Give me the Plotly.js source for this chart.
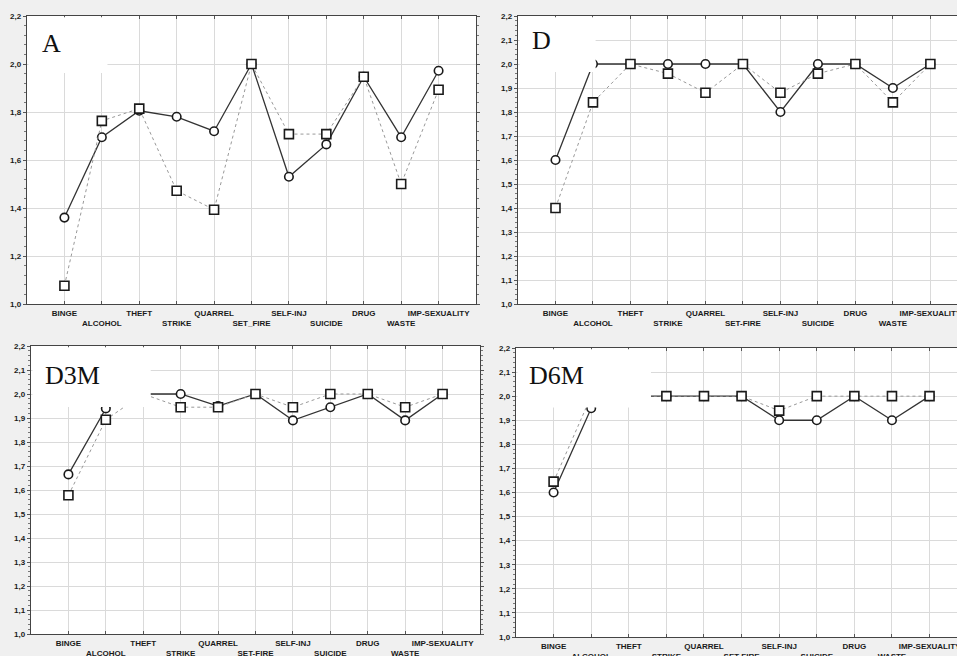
<!DOCTYPE html>
<html>
<head>
<meta charset="utf-8">
<script src="https://cdn.plot.ly/plotly-3.0.1.min.js"></script>
<style>
  html, body { margin: 0; padding: 0; background: #f0f0f0; }
  #chart { width: 957px; height: 656px; }
</style>
</head>
<body>
<div id="chart"></div>
<script>
// ---- data ----
const categories = ['BINGE','ALCOHOL','THEFT','STRIKE','QUARREL','SET_FIRE','SELF-INJ','SUICIDE','DRUG','WASTE','IMP-SEXUALITY'];
const labelsA = ['BINGE','ALCOHOL','THEFT','STRIKE','QUARREL','SET_FIRE','SELF-INJ','SUICIDE','DRUG','WASTE','IMP-SEXUALITY'];
const labelsD = ['BINGE','ALCOHOL','THEFT','STRIKE','QUARREL','SET-FIRE','SELF-INJ','SUICIDE','DRUG','WASTE','IMP-SEXUALITY'];
const panelNames = ['A','D','D3M','D6M'];

const aCircle  = [1.36, 1.695, 1.805, 1.78, 1.72, 2.0, 1.53, 1.665, 1.947, 1.695, 1.972];
const aSquare  = [1.076, 1.763, 1.814, 1.472, 1.393, 2.0, 1.708, 1.708, 1.947, 1.5, 1.893];
const dCircle  = [1.6, 2.0, 2.0, 2.0, 2.0, 2.0, 1.8, 2.0, 2.0, 1.9, 2.0];
const dSquare  = [1.4, 1.84, 2.0, 1.96, 1.88, 2.0, 1.88, 1.96, 2.0, 1.84, 2.0];
const d3Circle = [1.665, 1.94, 2.0, 2.0, 1.95, 2.0, 1.89, 1.945, 2.0, 1.89, 2.0];
const d3Square = [1.578, 1.893, 2.0, 1.945, 1.945, 2.0, 1.945, 2.0, 2.0, 1.945, 2.0];
const d6Circle = [1.6, 1.95, 2.0, 2.0, 2.0, 2.0, 1.9, 1.9, 2.0, 1.9, 2.0];
const d6Square = [1.645, 2.0, 2.0, 2.0, 2.0, 2.0, 1.94, 2.0, 2.0, 2.0, 2.0];

const yTicksA = [1.0, 1.2, 1.4, 1.6, 1.8, 2.0, 2.2];
const yTicksD = [1.0, 1.1, 1.2, 1.3, 1.4, 1.5, 1.6, 1.7, 1.8, 1.9, 2.0, 2.1, 2.2];

// ---- layout geometry (pixels) ----
const W = 957, H = 656;
const boxes = [
  {x0: 27,  x1: 476, y0: 16,  y1: 304, xr: [-1, 11],    yt: yTicksA, minor: 0.04, labels: labelsA,
   mask: [-0.96, 1.15, 1.963], lab: [40, 43]},
  {x0: 518, x1: 957, y0: 16,  y1: 304, xr: [-1, 10.71], yt: yTicksD, minor: 0.02, labels: labelsD,
   mask: [-0.96, 1.07, 1.967], lab: [530, 40]},
  {x0: 31,  x1: 480, y0: 346, y1: 634, xr: [-1, 11],    yt: yTicksD, minor: 0.02, labels: labelsD,
   mask: [-0.96, 2.2, 1.946], lab: [43, 376]},
  {x0: 516, x1: 957, y0: 348, y1: 637, xr: [-1, 10.73], yt: yTicksD, minor: 0.02, labels: labelsD,
   mask: [-0.96, 2.59, 1.953], lab: [527, 376]}
];
const series = [[aCircle, aSquare], [dCircle, dSquare], [d3Circle, d3Square], [d6Circle, d6Square]];

const traces = [];
const layout = {
  width: W, height: H,
  margin: {l: 0, r: 0, t: 0, b: 0},
  paper_bgcolor: '#f0f0f0',
  plot_bgcolor: '#ffffff',
  showlegend: false,
  separators: ',.',
  font: {family: 'Liberation Sans, Arial, sans-serif', size: 8, color: '#222'},
  shapes: [],
  annotations: []
};

boxes.forEach((b, i) => {
  const n = i === 0 ? '' : String(i + 1);
  const xa = 'x' + n, ya = 'y' + n;
  const staggered = b.labels.map((t, k) => (k % 2 === 1 ? '<br>' + t : t));
  layout['xaxis' + n] = {
    domain: [b.x0 / W, b.x1 / W],
    anchor: ya,
    type: 'linear',
    range: b.xr,
    tickmode: 'array',
    tickvals: categories.map((c, k) => k),
    ticktext: staggered,
    tickangle: 0,
    ticklabeloverflow: 'allow',
    tickfont: {family: 'Liberation Sans, Arial, sans-serif', size: 8, color: '#1a1a1a', weight: 'bold'},
    ticks: 'inside', ticklen: 3, tickcolor: '#555',
    ticklabelstandoff: 1,
    showline: true, linecolor: '#444', linewidth: 1.2, mirror: 'ticks',
    showgrid: true, gridcolor: '#dadada', gridwidth: 1,
    zeroline: false, fixedrange: true, automargin: false
  };
  layout['yaxis' + n] = {
    domain: [1 - b.y1 / H, 1 - b.y0 / H],
    anchor: xa,
    range: [1.0, 2.2],
    tickmode: 'array',
    tickvals: b.yt,
    tickformat: '.1f',
    ticklabeloverflow: 'allow',
    tickfont: {family: 'Liberation Sans, Arial, sans-serif', size: 8, color: '#1a1a1a', weight: 'bold'},
    ticks: 'outside', ticklen: 3, tickcolor: '#555',
    minor: {ticks: 'outside', ticklen: 2, dtick: b.minor, tick0: 1.0, tickcolor: '#777', showgrid: false},
    showline: true, linecolor: '#444', linewidth: 1.2, mirror: 'ticks',
    showgrid: true, gridcolor: '#dadada', gridwidth: 1,
    zeroline: false, fixedrange: true, automargin: false
  };
  const xs = categories.map((c, k) => k);
  // circles, solid line
  traces.push({
    type: 'scatter', mode: 'lines+markers', xaxis: xa, yaxis: ya,
    x: xs, y: series[i][0],
    line: {color: '#333', width: 1.3},
    marker: {symbol: 'circle', size: 8.5, color: '#ffffff', line: {color: '#1a1a1a', width: 1.6}},
    cliponaxis: false
  });
  // squares, dotted line
  traces.push({
    type: 'scatter', mode: 'lines+markers', xaxis: xa, yaxis: ya,
    x: xs, y: series[i][1],
    line: {color: '#999', width: 1, dash: 'dot'},
    marker: {symbol: 'square', size: 9, color: '#ffffff', line: {color: '#1a1a1a', width: 1.6}},
    cliponaxis: false
  });
  // white label box (covers part of the plot, as in the original)
  layout.shapes.push({
    type: 'rect', xref: xa, yref: ya, layer: 'above',
    x0: b.mask[0], x1: b.mask[1], y0: b.mask[2], y1: 2.195,
    fillcolor: '#ffffff', line: {width: 0}
  });
  layout.annotations.push({
    xref: 'paper', yref: 'paper', x: b.lab[0] / W, y: 1 - b.lab[1] / H,
    xanchor: 'left', yanchor: 'middle', showarrow: false,
    text: panelNames[i],
    font: {family: 'Liberation Serif, Times New Roman, serif', size: 26, color: '#111'}
  });
});

Plotly.newPlot('chart', traces, layout, {displayModeBar: false, staticPlot: true});
</script>
</body>
</html>
